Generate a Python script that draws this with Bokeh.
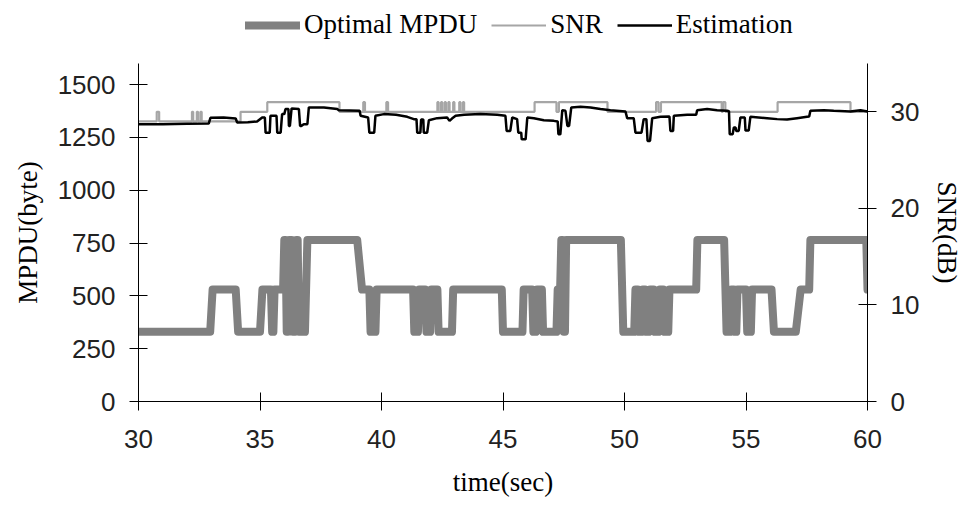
from bokeh.plotting import figure
from bokeh.models import Range1d, LinearAxis, FixedTicker, Legend, LegendItem
from bokeh.layouts import column
from bokeh.embed import file_html
from bokeh.resources import INLINE

# ---------------- data ----------------
L, M, H = 330, 530, 765
mpdu_t = [30.0, 32.95, 33.05, 34.0, 34.1, 35.0, 35.1, 35.45, 35.5, 35.55, 35.6, 35.95, 36.0, 36.05, 36.1,
          36.15, 36.2, 36.3, 36.35, 36.45, 36.5, 36.55, 36.6, 36.85, 36.95, 39.0, 39.2, 39.5, 39.55,
          39.75, 39.8, 41.3, 41.35, 41.5, 41.55, 41.8, 41.85, 42.0, 42.05, 42.3, 42.35, 42.9, 42.95,
          44.95, 45.0, 45.8, 45.85, 46.2, 46.25, 46.35, 46.4, 46.6, 46.65, 47.2, 47.25, 47.35, 47.4,
          47.45, 47.5, 47.55, 47.6, 49.85, 49.95, 50.4, 50.45, 50.55, 50.6, 50.7, 50.75, 50.85, 50.9,
          51.0, 51.05, 51.2, 51.25, 51.4, 51.45, 51.6, 51.65, 51.8, 51.85, 52.95, 53.0, 54.1, 54.2,
          54.35, 54.4, 54.5, 54.55, 54.6, 54.65, 55.0, 55.05, 55.2, 55.25, 56.05, 56.15, 57.05, 57.25,
          57.6, 57.65, 59.95, 60.0]
mpdu_v = [L, L, M, M, L, L, M, M, L, L, M, M, H, H, L,
          L, H, H, L, L, H, H, L, L, H, H, M, M, L,
          L, M, M, L, L, M, M, L, L, M, M, L, L, M,
          M, L, L, M, M, L, L, M, M, L, L, M, M, H,
          H, L, L, H, H, L, L, M, M, L, L, M, M, L,
          L, M, M, L, L, M, M, L, L, M, M, H, H, L,
          L, M, M, L, L, M, M, L, L, M, M, L, L, M,
          M, H, H, M]

snr_t = [30.0, 30.75, 30.85, 32.2, 32.25, 32.4, 32.45, 32.55, 32.6, 34.2, 35.3, 38.27, 39.25, 39.32,
         40.2, 40.27, 42.3, 42.35, 42.45, 42.5, 42.6, 42.65, 42.75, 42.8, 42.95, 43.0, 43.2, 43.25,
         43.35, 43.4, 46.3, 47.2, 47.3, 49.3, 51.3, 51.4, 51.5, 54.0, 54.05, 54.15, 56.3, 59.3, 60.0]
snr_v = [29, 30, 29, 30, 29, 30, 29, 30, 29, 30, 31, 30, 31, 30,
         31, 30, 31, 30, 31, 30, 31, 30, 31, 30, 31, 30, 31, 30,
         31, 30, 31, 30, 31, 30, 31, 30, 31, 30, 31, 30, 31, 30, 30]

est_t = [30.0, 31.0, 32.0, 32.89, 32.96, 33.5, 34.0, 34.06, 34.5, 34.88, 35.09, 35.2, 35.23, 35.4,
         35.43, 35.68, 35.71, 35.85, 35.91, 36.0, 36.05, 36.17, 36.19, 36.23, 36.3, 36.6, 36.65, 36.7,
         36.8, 36.95, 37.01, 37.63, 38.18, 38.24, 39.1, 39.14, 39.45, 39.5, 39.7, 39.75, 40.1, 40.6,
         41.06, 41.33, 41.44, 41.47, 41.6, 41.63, 41.72, 41.74, 41.88, 41.95, 42.29, 42.7, 42.8, 42.9,
         43.05, 43.4, 44.07, 44.76, 45.1, 45.15, 45.3, 45.38, 45.58, 45.63, 45.75, 45.77, 45.93, 46.0,
         46.27, 46.68, 47.09, 47.25, 47.28, 47.36, 47.44, 47.57, 47.65, 47.72, 47.81, 48.19, 48.6,
         49.01, 49.42, 50.04, 50.11, 50.38, 50.45, 50.7, 50.79, 50.9, 50.95, 51.05, 51.14, 51.48,
         51.85, 51.89, 52.0, 52.03, 52.58, 52.95, 52.99, 53.4, 53.81, 54.22, 54.3, 54.33, 54.45, 54.5,
         54.57, 54.6, 54.7, 54.77, 54.95, 54.98, 55.11, 55.18, 55.87, 56.28, 56.69, 57.1, 57.51, 57.6,
         57.65, 58.2, 58.61, 59.29, 59.71, 60.0]
est_v = [28.71, 28.71, 28.75, 28.78, 29.38, 29.4, 29.3, 28.89, 28.92, 28.99, 29.41, 29.41, 27.84, 27.84,
         29.58, 29.58, 27.84, 27.84, 29.76, 29.76, 30.28, 30.28, 28.54, 28.54, 30.35, 30.28, 28.54, 28.54,
         28.71, 28.71, 30.45, 30.45, 30.28, 30.17, 30.1, 29.58, 29.41, 27.84, 27.84, 29.58, 29.76, 29.69,
         29.48, 29.24, 29.24, 27.84, 27.84, 29.2, 29.2, 27.84, 27.84, 29.13, 29.34, 29.41, 29.06, 29.3,
         29.58, 29.69, 29.76, 29.69, 29.58, 28.02, 28.02, 29.41, 29.24, 27.84, 27.84, 27.15, 27.15, 29.41,
         29.34, 29.13, 29.06, 29.0, 27.67, 27.67, 30.17, 30.1, 28.54, 28.54, 30.45, 30.52, 30.45,
         30.28, 30.17, 30.03, 29.34, 29.34, 27.84, 27.84, 29.24, 29.24, 26.98, 26.98, 29.34, 29.48,
         29.5, 28.02, 28.02, 29.58, 29.69, 29.7, 30.17, 30.28, 30.17, 30.1, 30.05, 27.67, 27.67, 28.37,
         28.37, 28.02, 28.02, 29.41, 29.41, 28.05, 28.05, 29.48, 29.34, 29.24, 29.2, 29.34, 29.48, 29.5,
         30.1, 30.17, 30.1, 30.03, 30.17, 30.03]

x_ticks = [30, 35, 40, 45, 50, 55, 60]
mpdu_ticks = [0, 250, 500, 750, 1000, 1250, 1500]
snr_ticks = [0, 10, 20, 30]
series_names = ["Optimal MPDU", "SNR", "Estimation"]

MPDU_STYLE = dict(line_color="#808080", line_width=8, line_join="round", line_cap="round")
SNR_STYLE = dict(line_color="#a6a6a6", line_width=2.2)
EST_STYLE = dict(line_color="black", line_width=2.5)

# ---------------- main figure ----------------
p = figure(width=966, height=445, output_backend="svg", toolbar_location=None,
           x_range=Range1d(30, 60), y_range=Range1d(0, 1600),
           min_border_left=138, min_border_right=99, min_border_top=3, min_border_bottom=104)
p.extra_y_ranges = {"snr": Range1d(0, 35)}
p.outline_line_color = None
p.xgrid.visible = False
p.ygrid.visible = False

p.line(mpdu_t, mpdu_v, **MPDU_STYLE)
p.step(snr_t, snr_v, mode="after", y_range_name="snr", **SNR_STYLE)
p.line(est_t, est_v, y_range_name="snr", **EST_STYLE)

right = LinearAxis(y_range_name="snr")
p.add_layout(right, "right")

def style(ax):
    ax.axis_line_color = "black"
    ax.axis_line_width = 1
    ax.major_tick_line_color = "black"
    ax.major_tick_in = 9
    ax.major_tick_out = 9
    ax.minor_tick_line_color = None
    ax.major_label_text_font = "Liberation Sans"
    ax.major_label_text_font_size = "26px"
    ax.major_label_text_color = "#222222"
    ax.axis_label_text_font = "Liberation Serif"
    ax.axis_label_text_font_size = "27px"
    ax.axis_label_text_font_style = "normal"
    ax.axis_label_text_color = "black"

xa = p.xaxis[0]
ya = p.yaxis[0]
for ax in (xa, ya, right):
    style(ax)

xa.ticker = FixedTicker(ticks=x_ticks)
xa.axis_label = "time(sec)"
xa.major_label_standoff = 19
xa.axis_label_standoff = 16

ya.ticker = FixedTicker(ticks=mpdu_ticks)
ya.axis_label = "MPDU(byte)"
ya.major_label_standoff = 14
ya.axis_label_standoff = 12

right.ticker = FixedTicker(ticks=snr_ticks)
right.axis_label = "SNR(dB)"
right.major_label_standoff = 14
right.axis_label_standoff = 10

# ---------------- legend strip above ----------------
lg = figure(width=966, height=60, output_backend="svg", toolbar_location=None,
            x_range=Range1d(0, 1), y_range=Range1d(0, 1),
            min_border_left=0, min_border_right=0, min_border_top=0, min_border_bottom=0)
lg.axis.visible = False
lg.xgrid.visible = False
lg.ygrid.visible = False
lg.outline_line_color = None
nan = float("nan")
k1 = lg.line(x=[nan], y=[nan], **MPDU_STYLE)
k2 = lg.line(x=[nan], y=[nan], **SNR_STYLE)
k3 = lg.line(x=[nan], y=[nan], **EST_STYLE)

legend = Legend(items=[LegendItem(label=series_names[0], renderers=[k1]),
                       LegendItem(label=series_names[1], renderers=[k2]),
                       LegendItem(label=series_names[2], renderers=[k3])],
                orientation="horizontal", location=(107, 20))
legend.label_text_font = "Liberation Serif"
legend.label_text_font_size = "27px"
legend.label_text_color = "black"
legend.glyph_width = 55
legend.glyph_height = 20
legend.label_standoff = 4
legend.spacing = 14
legend.padding = 2
legend.margin = 0
legend.border_line_color = None
legend.background_fill_alpha = 0
lg.add_layout(legend, "center")

open("out.html", "w").write(file_html(column(lg, p, spacing=0), INLINE))
